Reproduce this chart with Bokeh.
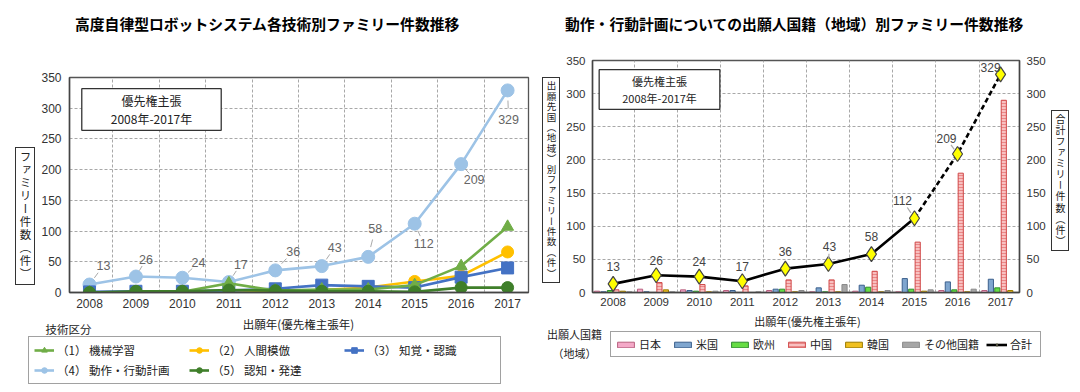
from bokeh.plotting import figure
from bokeh.models import (Range1d, LinearAxis, FixedTicker, SingleIntervalTicker, Label,
                          Legend, LegendItem, ColumnDataSource, LabelSet, Div)
from bokeh.layouts import row, column
from bokeh.transform import dodge
from bokeh.embed import file_html
from bokeh.resources import INLINE
from bokeh.core.properties import value

JP = "Noto Sans CJK JP"
NUM = "Liberation Sans"

years = [2008, 2009, 2010, 2011, 2012, 2013, 2014, 2015, 2016, 2017]

# ---------------- left chart data ----------------
left_title = "高度自律型ロボットシステム各技術別ファミリー件数推移"
left_ytitle = "ファミリー件数（件）"
legend1_title = "技術区分"
tech_names = ["（1） 機械学習", "（2） 人間模倣", "（3） 知覚・認識", "（4） 動作・行動計画", "（5） 認知・発達"]
tech_ml = [0, 0, 1, 15, 3, 5, 5, 12, 43, 107]
tech_human = [0, 0, 0, 1, 2, 4, 8, 18, 27, 66]
tech_percep = [1, 2, 2, 3, 6, 12, 10, 8, 25, 40]
tech_motion = [13, 26, 24, 17, 36, 43, 58, 112, 209, 329]
tech_cog = [0, 2, 2, 4, 3, 2, 2, 1, 8, 8]

# ---------------- right chart data ----------------
right_title = "動作・行動計画についての出願人国籍（地域）別ファミリー件数推移"
right_ytitle = "出願先国（地域）別ファミリー件数（件）"
right_y2title = "合計ファミリー件数（件）"
legend2_title = "出願人国籍\n（地域）"
nat_names = ["日本", "米国", "欧州", "中国", "韓国", "その他国籍"]
nat_jp = [2, 5, 4, 3, 3, 1, 2, 1, 3, 3]
nat_us = [1, 1, 3, 3, 5, 7, 11, 21, 16, 20]
nat_eu = [3, 0, 2, 0, 5, 1, 8, 5, 4, 7]
nat_cn = [4, 15, 12, 10, 19, 19, 32, 76, 180, 290]
nat_kr = [2, 4, 1, 0, 1, 1, 1, 2, 1, 3]
nat_other = [1, 1, 2, 1, 3, 12, 3, 4, 5, 0]
total = [13, 26, 24, 17, 36, 43, 58, 112, 209, 329]
total_name = "合計"

prio_text = "優先権主張\n2008年-2017年"
xlabel = "出願年(優先権主張年)"


def style_common(p, tick_size):
    p.background_fill_color = "white"
    p.border_fill_color = "white"
    p.outline_line_color = "#555555"
    p.outline_line_width = 1.3
    p.xaxis.ticker = FixedTicker(ticks=years)
    p.xgrid.ticker = FixedTicker(ticks=[y + 0.5 for y in years[:-1]])
    for ax in p.xaxis + p.yaxis:
        ax.major_tick_line_color = None
        ax.minor_tick_line_color = None
        ax.major_tick_out = 0
        ax.major_tick_in = 0
        ax.minor_tick_out = 0
        ax.axis_line_color = "#444444"
        ax.axis_line_width = 1.5
        ax.major_label_text_font = NUM
        ax.major_label_text_font_size = tick_size
        ax.major_label_text_color = "#333333"
    for g in (p.xgrid, p.ygrid):
        g.grid_line_color = "#a8a8a8"
        g.grid_line_dash = "3 2"
        g.grid_line_width = 1
    p.xaxis.major_label_standoff = 6


def box_html(text, left, top, size, ls):
    return (f'<div style="position:absolute;left:{left}px;top:{top}px;writing-mode:vertical-rl;'
            f'font-family:\'{JP}\';font-size:{size}px;letter-spacing:{ls}px;line-height:1;'
            f'border:1.3px solid #333;padding:3px 3px;color:#222;background:white;'
            f'white-space:nowrap;">{text}</div>')


def title_html(text, left, top):
    return (f'<div style="position:absolute;left:{left}px;top:{top}px;font-family:\'{JP}\';'
            f'font-size:14.8px;font-weight:bold;color:#000;white-space:nowrap;line-height:20px;">'
            f'{text}</div>')


def make_div(inner, width, height):
    html = f'<div style="position:relative;width:{width}px;height:{height}px;">{inner}</div>'
    return Div(text=html, width=width, height=height, margin=0)


def legend_fig(width, height):
    # strip holding the legend; its range is far from the data, so the proxy
    # renderers only show up as legend swatches
    f = figure(width=width, height=height, x_range=Range1d(0, width), y_range=Range1d(-1000, -1000 + height),
               x_axis_type=None, y_axis_type=None, output_backend="svg", toolbar_location=None,
               min_border=0)
    f.outline_line_color = None
    f.background_fill_color = "white"
    f.border_fill_color = "white"
    return f


def text_label(text, x, y, size, align="center"):
    return Label(x=x, y=y, x_units="screen", y_units="screen", text=text, text_align=align,
                 text_baseline="middle", text_font=JP, text_font_size=size,
                 text_color="#222222", text_line_height=1.2)


# =============== LEFT FIGURE ===============
p1 = figure(width=502, height=272, x_range=Range1d(2007.57, 2017.45), y_range=Range1d(0, 350),
            output_backend="svg", toolbar_location=None,
            min_border_left=30, min_border_right=12, min_border_top=33, min_border_bottom=24)
style_common(p1, "12px")
p1.yaxis.ticker = SingleIntervalTicker(interval=50)
p1.ygrid.ticker = SingleIntervalTicker(interval=50)
p1.yaxis.major_label_standoff = 8

series = [
    (tech_names[3], tech_motion, "#9dc3e6", "circle", 13),
    (tech_names[1], tech_human, "#ffc000", "circle", 12),
    (tech_names[2], tech_percep, "#4472c4", "square", 12),
    (tech_names[0], tech_ml, "#70ad47", "triangle", 12),
    (tech_names[4], tech_cog, "#3f7f2a", "circle", 12),
]
style1 = {}
for name, vals, col, mk, sz in series:
    p1.line(years, vals, line_color=col, line_width=2.6)
    p1.scatter(years, vals, marker=mk, size=sz, fill_color=col, line_color=col)
    style1[name] = (vals, col, mk, sz)

lab_dx = [14, 10, 16, 12, 18, 13, 7, 9, 13, 1]
lab_dy = [-19, -17, -15, -18, -19, -19, -28, 20, 15, 29]
px_x = 460 / (2017.45 - 2007.57)
px_y = 215 / 350
lsrc = ColumnDataSource(dict(x=years, y=tech_motion, t=[str(v) for v in tech_motion],
                             dx=lab_dx, dy=[-d for d in lab_dy]))
p1.add_layout(LabelSet(x="x", y="y", text="t", source=lsrc, x_offset="dx", y_offset="dy",
                       text_align="center", text_baseline="middle", text_font=value(NUM),
                       text_font_size="12.5px", text_color="#666666"))
x0s, y0s, x1s, y1s = [], [], [], []
for yr, v, dx, dy in zip(years, tech_motion, lab_dx, lab_dy):
    x0s.append(yr + dx * 0.35 / px_x)
    y0s.append(v - dy * 0.35 / px_y)
    x1s.append(yr + dx * 0.62 / px_x)
    y1s.append(v - dy * 0.62 / px_y)
p1.segment(x0s, y0s, x1s, y1s, line_color="#aaaaaa", line_width=1)

p1.add_layout(Label(x=82, y=183, x_units="screen", y_units="screen", text=prio_text,
                    text_align="center", text_baseline="middle", text_font=JP,
                    text_font_size="12px", text_color="#222222", text_line_height=1.1,
                    border_line_color="#333333", border_line_width=1.3,
                    background_fill_color="white", padding=(29, 3)))

# legend strip below left chart
lf1 = legend_fig(540, 76)
lf1.add_layout(text_label(xlabel, 298, 69, "11.5px"))
lf1.add_layout(text_label(legend1_title, 45, 64, "11.5px", "left"))
items1 = []
for name in tech_names:
    vals, col, mk, sz = style1[name]
    dl = lf1.line(years, vals, line_color=col, line_width=2.6)
    ds = lf1.scatter(years, vals, marker=mk, size=sz, fill_color=col, line_color=col)
    items1.append(LegendItem(label=name, renderers=[dl, ds]))
leg1 = Legend(items=items1, location=(28, 8), orientation="horizontal", ncols=3,
              label_text_font=JP, label_text_font_size="11.5px", label_text_color="#222222",
              glyph_width=20, glyph_height=14, label_height=14, label_width=128,
              label_standoff=3, spacing=4, padding=5, margin=0,
              border_line_color="#444444", border_line_width=1.5,
              background_fill_color="white", background_fill_alpha=1.0)
lf1.add_layout(leg1, "center")

title1 = make_div(title_html(left_title, 75, 14), 540, 44)
vdiv1 = make_div(box_html(left_ytitle, 15, 103, 11.5, 1.5), 38, 272)

# =============== RIGHT FIGURE ===============
p2 = figure(width=488, height=269, x_range=Range1d(2007.52, 2017.44), y_range=Range1d(0, 350),
            output_backend="svg", toolbar_location=None,
            min_border_left=32, min_border_right=26, min_border_top=16, min_border_bottom=21)
p2.extra_y_ranges = {"total": Range1d(0, 350)}
p2.add_layout(LinearAxis(y_range_name="total"), "right")
style_common(p2, "11.5px")
for ax in p2.yaxis:
    ax.ticker = SingleIntervalTicker(interval=50)
    ax.major_label_standoff = 7
p2.ygrid.ticker = SingleIntervalTicker(interval=50)
p2.xaxis.major_label_standoff = 5

bsrc = ColumnDataSource(dict(year=years, jp=nat_jp, us=nat_us, eu=nat_eu, cn=nat_cn,
                             kr=nat_kr, other=nat_other))
bar_styles = [
    ("jp", nat_names[0], "#f4a9c8", "#b8607f", None),
    ("us", nat_names[1], "#7fa6cf", "#3b5f8c", None),
    ("eu", nat_names[2], "#66dd44", "#2e8b2e", None),
    ("cn", nat_names[3], "#f8c0c0", "#d04848", "-"),
    ("kr", nat_names[4], "#f0c020", "#9a7a00", None),
    ("other", nat_names[5], "#a6a6a6", "#8a8a8a", None),
]
offs = [-0.375, -0.225, -0.075, 0.075, 0.225, 0.375]
for (key, name, fc, lc, hatch), off in zip(bar_styles, offs):
    kw = {}
    if hatch:
        kw = dict(hatch_pattern=hatch, hatch_color="#e06060", hatch_scale=3.0, hatch_weight=0.6)
    p2.vbar(x=dodge("year", off, range=p2.x_range), top=key, width=0.12, bottom=0,
            source=bsrc, fill_color=fc, line_color=lc, line_width=1, **kw)

p2.line(years[:8], total[:8], line_color="black", line_width=2.6, y_range_name="total")
p2.line(years[7:], total[7:], line_color="black", line_width=2.6, line_dash="5 3",
        y_range_name="total")
p2.scatter(years, total, marker="diamond", size=15, fill_color="#ffff00",
           line_color="#444444", line_width=1.2, y_range_name="total")

r_dx = [0, 0, 0, 0, 0, 1, 0, -12, -11, -10]
r_dy = [-17, -15, -15, -15, -17, -17, -18, -18, -15, -7]
tsrc = ColumnDataSource(dict(x=years, y=total, t=[str(v) for v in total], dx=r_dx,
                             dy=[-d for d in r_dy]))
p2.add_layout(LabelSet(x="x", y="y", text="t", source=tsrc, x_offset="dx", y_offset="dy",
                       y_range_name="total", text_align="center", text_baseline="middle",
                       text_font=value(NUM), text_font_size="12px", text_color="#444444"))
px2_x = 430 / (2017.44 - 2007.52)
px2_y = 232 / 350
lx0, ly0, lx1, ly1 = [], [], [], []
for yr, v, dx, dy in zip(years, total, r_dx, r_dy):
    if dx != 0:
        lx0.append(yr + dx * 0.3 / px2_x)
        ly0.append(v - dy * 0.3 / px2_y)
        lx1.append(yr + dx * 0.6 / px2_x)
        ly1.append(v - dy * 0.6 / px2_y)
p2.segment(lx0, ly0, lx1, ly1, line_color="#aaaaaa", line_width=1.2, y_range_name="total")

p2.add_layout(Label(x=67, y=203, x_units="screen", y_units="screen", text=prio_text,
                    text_align="center", text_baseline="middle", text_font=JP,
                    text_font_size="11px", text_color="#222222", text_line_height=1.1,
                    border_line_color="#333333", border_line_width=1.3,
                    background_fill_color="white", padding=(23, 3)))

# legend strip below right chart
lf2 = legend_fig(540, 79)
lf2.add_layout(text_label(xlabel, 267, 72, "11px"))
lf2.add_layout(text_label(legend2_title, 34, 49, "11px"))
nat_series = [nat_jp, nat_us, nat_eu, nat_cn, nat_kr, nat_other]
items2 = []
for (key, name, fc, lc, hatch), vals in zip(bar_styles, nat_series):
    kw = {}
    if hatch:
        kw = dict(hatch_pattern=hatch, hatch_color="#e06060", hatch_scale=3.0, hatch_weight=0.6)
    r = lf2.vbar(x=years, top=vals, width=0.12, fill_color=fc, line_color=lc, line_width=1, **kw)
    items2.append(LegendItem(label=name, renderers=[r]))
dl = lf2.line(years, total, line_color="black", line_width=2.6)
ds = lf2.scatter(years, total, marker="diamond", size=15, fill_color="#ffff00", line_color="#444444")
items2.append(LegendItem(label=total_name, renderers=[dl, ds]))
leg2 = Legend(items=items2, location=(70, 35), orientation="horizontal",
              label_text_font=JP, label_text_font_size="11px", label_text_color="#222222",
              glyph_width=21, glyph_height=7, label_height=12, label_width=26,
              label_standoff=3, spacing=7, padding=4, margin=0,
              border_line_color="#444444", border_line_width=1.5,
              background_fill_color="white", background_fill_alpha=1.0)
lf2.add_layout(leg2, "center")

title2 = make_div(title_html(right_title, 25, 14), 540, 44)
vdiv2 = make_div(box_html(right_ytitle, 2, 33, 9.5, 0.9), 20, 269)
vdiv3 = make_div(box_html(right_y2title, 3, 66, 10, 1.1), 32, 269)

left = column(title1, row(vdiv1, p1, spacing=0), lf1, spacing=0)
right = column(title2, row(vdiv2, p2, vdiv3, spacing=0), lf2, spacing=0)
layout = row(left, right, spacing=0)
open("out.html", "w").write(file_html(layout, INLINE))
